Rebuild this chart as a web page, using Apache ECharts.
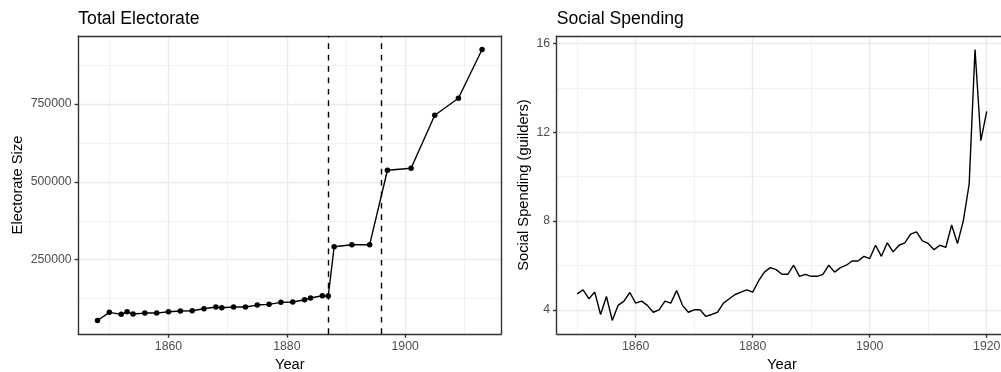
<!DOCTYPE html>
<html>
<head>
<meta charset="utf-8">
<title>Total Electorate and Social Spending</title>
<script src="https://cdn.jsdelivr.net/npm/echarts@6/dist/echarts.min.js"></script>
<style>
  html, body { margin: 0; padding: 0; background: #ffffff; overflow: hidden; }
  #chart { width: 1001px; height: 372px; }
</style>
</head>
<body>
<div id="chart"></div>
<script>
// Electorate size by election year
const electorateYears = [1848, 1850, 1852, 1853, 1854, 1856, 1858, 1860, 1862, 1864, 1866, 1868, 1869,
  1871, 1873, 1875, 1877, 1879, 1881, 1883, 1884, 1886, 1887, 1888, 1891, 1894, 1897, 1901, 1905, 1909, 1913];
const electorateSize = [55000, 81000, 74600, 82900, 75500, 78700, 78700, 82900, 85200, 86100, 92500, 98000, 95800,
  98000, 98000, 104400, 106700, 113100, 114100, 121500, 126900, 134300, 133400, 291800, 298200, 298200, 537300,
  543700, 714000, 768600, 924800];
// Suffrage reform years (dashed markers)
const reformYears = [1887, 1896];

// Social spending per year (guilders)
const spendingYears = [1850, 1851, 1852, 1853, 1854, 1855, 1856, 1857, 1858, 1859,
  1860, 1861, 1862, 1863, 1864, 1865, 1866, 1867, 1868, 1869,
  1870, 1871, 1872, 1873, 1874, 1875, 1876, 1877, 1878, 1879,
  1880, 1881, 1882, 1883, 1884, 1885, 1886, 1887, 1888, 1889,
  1890, 1891, 1892, 1893, 1894, 1895, 1896, 1897, 1898, 1899,
  1900, 1901, 1902, 1903, 1904, 1905, 1906, 1907, 1908, 1909,
  1910, 1911, 1912, 1913, 1914, 1915, 1916, 1917, 1918, 1919, 1920];
const spendingValues = [4.72, 4.90, 4.50, 4.80, 3.79, 4.60, 3.52, 4.20, 4.39, 4.78,
  4.30, 4.39, 4.20, 3.89, 4.00, 4.39, 4.30, 4.87, 4.20, 3.89,
  4.00, 4.00, 3.70, 3.79, 3.89, 4.30, 4.50, 4.69, 4.80, 4.90,
  4.80, 5.30, 5.70, 5.90, 5.81, 5.60, 5.60, 6.01, 5.51, 5.60,
  5.51, 5.51, 5.60, 6.01, 5.70, 5.90, 6.01, 6.20, 6.20, 6.41,
  6.31, 6.91, 6.41, 7.02, 6.61, 6.91, 7.02, 7.41, 7.51, 7.11,
  6.99, 6.71, 6.91, 6.81, 7.82, 6.99, 8.01, 9.67, 15.73, 11.62, 12.94];

// Tick positions
const leftXMajor = [1860, 1880, 1900];
const leftXMinor = [1850, 1870, 1890, 1910];
const leftYMajor = [250000, 500000, 750000];
const leftYMinor = [125000, 375000, 625000, 875000];
const rightXMajor = [1860, 1880, 1900, 1920];
const rightXMinor = [1850, 1870, 1890, 1910];
const rightYMajor = [4, 8, 12, 16];
const rightYMinor = [6, 10, 14];

const FONT = '"Liberation Sans", Arial, Helvetica, sans-serif';
const BORDER = '#333333';
const GRID = '#EBEBEB';
const TICKTXT = '#4D4D4D';

// Padded axis ranges (5% on each side of the data)
function padded(values, frac) {
  const lo = Math.min(...values), hi = Math.max(...values);
  const d = (hi - lo) * frac;
  return [lo - d, hi + d];
}
const lx = padded(electorateYears, 0.05);
const ly = padded(electorateSize, 0.05);
const rx = padded(spendingYears, 0.05);
const ry = padded(spendingValues, 0.05);

function majorAxis(kind, gridIndex, range, ticks, extra) {
  return Object.assign({
    type: 'value',
    gridIndex: gridIndex,
    position: kind === 'x' ? 'bottom' : 'left',
    min: range[0],
    max: range[1],
    axisLine: { show: true, onZero: false, lineStyle: { color: BORDER, width: 1.4 } },
    axisTick: { show: true, length: 3.7, customValues: ticks, lineStyle: { color: BORDER, width: 1.4 } },
    axisLabel: {
      show: true, customValues: ticks, color: TICKTXT, fontFamily: FONT, fontSize: 12.3,
      margin: kind === 'x' ? 7 : 6.6,
      formatter: v => String(v)
    },
    splitLine: { show: true, lineStyle: { color: GRID, width: 1.4 } },
    nameLocation: 'middle',
    nameTextStyle: { color: '#000000', fontFamily: FONT, fontSize: 14.7 }
  }, extra || {});
}

function minorAxis(kind, gridIndex, range, ticks) {
  return {
    type: 'value',
    gridIndex: gridIndex,
    position: kind === 'x' ? 'top' : 'right',
    min: range[0],
    max: range[1],
    axisLine: { show: true, onZero: false, lineStyle: { color: BORDER, width: 1.4 } },
    axisTick: { show: false, customValues: ticks },
    axisLabel: { show: false, customValues: ticks },
    splitLine: { show: true, lineStyle: { color: GRID, width: 0.7 } }
  };
}

const chart = echarts.init(document.getElementById('chart'), null, { renderer: 'canvas' });

chart.setOption({
  animation: false,
  backgroundColor: '#ffffff',
  textStyle: { fontFamily: FONT },
  title: [
    { text: 'Total Electorate', left: 78.3, top: 10, padding: 0,
      textStyle: { color: '#000000', fontFamily: FONT, fontSize: 17.6, fontWeight: 'normal' } },
    { text: 'Social Spending', left: 556.7, top: 10, padding: 0,
      textStyle: { color: '#000000', fontFamily: FONT, fontSize: 17.6, fontWeight: 'normal' } }
  ],
  grid: [
    { left: 78.3, top: 36, width: 423, height: 298, containLabel: false, outerBoundsMode: 'none' },
    { left: 556.7, top: 36, width: 450.5, height: 298, containLabel: false, outerBoundsMode: 'none' }
  ],
  xAxis: [
    majorAxis('x', 0, lx, leftXMajor, { name: 'Year', nameGap: 22 }),
    minorAxis('x', 0, lx, leftXMinor),
    majorAxis('x', 1, rx, rightXMajor, { name: 'Year', nameGap: 22 }),
    minorAxis('x', 1, rx, rightXMinor)
  ],
  yAxis: [
    majorAxis('y', 0, ly, leftYMajor, { name: 'Electorate Size', nameGap: 53 }),
    minorAxis('y', 0, ly, leftYMinor),
    majorAxis('y', 1, ry, rightYMajor, { name: 'Social Spending (guilders)', nameGap: 25 }),
    minorAxis('y', 1, ry, rightYMinor)
  ],
  series: [
    {
      type: 'line',
      xAxisIndex: 0,
      yAxisIndex: 0,
      data: electorateYears.map((y, i) => [y, electorateSize[i]]),
      symbol: 'circle',
      symbolSize: 5.5,
      showSymbol: true,
      itemStyle: { color: '#000000', borderWidth: 0 },
      lineStyle: { color: '#000000', width: 1.4 },
      z: 3,
      markLine: {
        silent: true,
        symbol: ['none', 'none'],
        label: { show: false },
        lineStyle: { color: '#000000', width: 1.4, type: [5.7, 5.7] },
        data: reformYears.map(y => ({ xAxis: y }))
      }
    },
    {
      type: 'line',
      xAxisIndex: 2,
      yAxisIndex: 2,
      data: spendingYears.map((y, i) => [y, spendingValues[i]]),
      showSymbol: false,
      symbol: 'none',
      lineStyle: { color: '#000000', width: 1.4 },
      z: 3
    }
  ]
});
</script>
</body>
</html>
